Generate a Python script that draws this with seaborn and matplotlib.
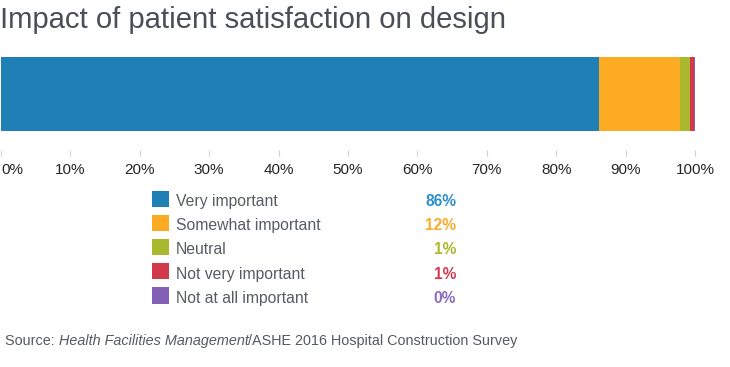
import matplotlib

matplotlib.use("Agg")
import matplotlib.pyplot as plt
from matplotlib.patches import Rectangle
import numpy as np
import pandas as pd
import seaborn as sns

# data
categories = ["Very important", "Somewhat important", "Neutral",
              "Not very important", "Not at all important"]
shares = [86.2, 11.7, 1.4, 0.5, 0.2]
share_labels = ["86%", "12%", "1%", "1%", "0%"]
bar_colors = ["#1f80b5", "#fdab23", "#a9b82c", "#d23a4c", "#8160b6"]
text_colors = ["#2e8fcc", "#fbab2a", "#a8b82e", "#d53b50", "#8a6cbf"]
tick_values = list(range(0, 101, 10))
tick_labels = [f"{v}%" for v in tick_values]

W, H = 730, 367
sns.set_theme(style="white")
plt.rcParams["font.family"] = ["Liberation Sans", "DejaVu Sans"]

fig = plt.figure(figsize=(W / 100, H / 100), dpi=100)
fig.patch.set_facecolor("white")

# stacked bar: draw cumulative totals from largest to smallest so they overlap
df = pd.DataFrame({"category": categories, "share": shares})
df["cum"] = df["share"].cumsum()

ax = fig.add_axes([1 / W, 1 - 131 / H, 694 / W, 74 / H])
for i in range(len(df) - 1, -1, -1):
    sns.barplot(x=[df["cum"][i]], y=[""], orient="h", color=bar_colors[i],
                width=1.0, saturation=1, linewidth=0, ax=ax)
ax.set_xlim(0, 100)
ax.set_ylim(0.5, -0.5)
ax.set_yticks([])
ax.set_xticks(tick_values)
ax.set_xticklabels(tick_labels, fontsize=11.3, color="#666a73")
ax.tick_params(axis="x", bottom=True, length=4, width=0.8, color="#d0d0d0", pad=5)
ax.spines["bottom"].set_position(("outward", 14))
for s in ax.spines.values():
    s.set_visible(False)
ax.set_xlabel("")
ax.set_ylabel("")
ax.get_xticklabels()[0].set_horizontalalignment("left")

# overlay in pixel coordinates for title, legend and source
ov = fig.add_axes([0, 0, 1, 1])
ov.set_xlim(0, W)
ov.set_ylim(H, 0)
ov.axis("off")
ov.patch.set_alpha(0)

ov.text(0, 28, "Impact of patient satisfaction on design", fontsize=21.1,
        color="#4a4f57", ha="left", va="baseline")

row_top = 190.5
row_step = 24.2
for i, cat in enumerate(categories):
    top = row_top + i * row_step
    ov.add_patch(Rectangle((152.3, top), 16.5, 16.2, facecolor=bar_colors[i],
                           edgecolor="none"))
    ov.text(176, top + 15.5, cat, fontsize=11.3, color="#575c63",
            ha="left", va="baseline")
    ov.text(456, top + 15.5, share_labels[i], fontsize=11.2, fontweight="bold",
            color=text_colors[i], ha="right", va="baseline")

t1 = ov.text(5, 345, "Source: ", fontsize=10.4, color="#555a60",
             ha="left", va="baseline")
t2 = ov.annotate("Health Facilities Management", xy=(1, 0), xycoords=t1,
                 fontsize=10.4, style="italic", color="#555a60",
                 ha="left", va="bottom")
ov.annotate("/ASHE 2016 Hospital Construction Survey", xy=(1, 0), xycoords=t2,
            fontsize=10.4, color="#555a60", ha="left", va="bottom")

fig.savefig("out.png", dpi=100, facecolor="white")
